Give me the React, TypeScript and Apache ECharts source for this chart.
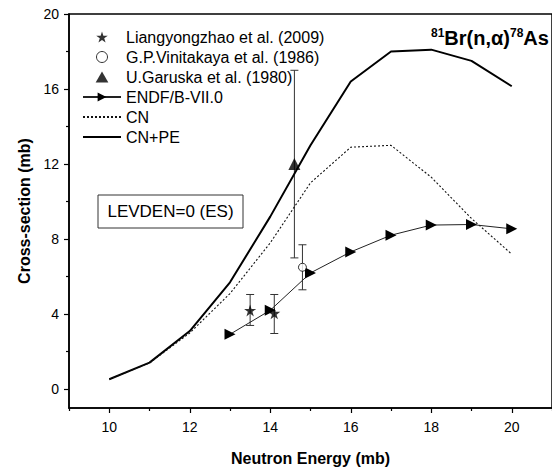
import React, { useEffect, useRef } from "react";
import * as echarts from "echarts";

// ---- data ----
const energies = [10, 11, 12, 13, 14, 15, 16, 17, 18, 19, 20];
const cnpeValues = [0.53, 1.42, 3.1, 5.7, 9.2, 13.0, 16.4, 18.0, 18.1, 17.5, 16.15];
const cnValues = [0.53, 1.4, 3.0, 5.1, 7.8, 11.0, 12.9, 13.0, 11.3, 9.1, 7.2];
const endfEnergies = [13, 14, 15, 16, 17, 18, 19, 20];
const endfValues = [2.93, 4.21, 6.2, 7.32, 8.21, 8.75, 8.78, 8.55];

const liangE = [13.5, 14.1];
const liangY = [4.2, 4.05];
const liangLo = [3.4, 2.97];
const liangHi = [5.05, 5.05];

const viniE = [14.8];
const viniY = [6.5];
const viniLo = [5.3];
const viniHi = [7.7];

const garE = [14.6];
const garY = [12.0];
const garLo = [7.0];
const garHi = [17.0];

const xMajor = [10, 12, 14, 16, 18, 20];
const xMinor = [9, 11, 13, 15, 17, 19, 21];
const yMajor = [0, 4, 8, 12, 16, 20];
const yMinor = [2, 6, 10, 14, 18];

const NAME_LIANG = "Liangyongzhao et al. (2009)";
const NAME_VINI = "G.P.Vinitakaya et al. (1986)";
const NAME_GAR = "U.Garuska et al. (1980)";
const NAME_ENDF = "ENDF/B-VII.0";
const NAME_CN = "CN";
const NAME_CNPE = "CN+PE";

const FONT = "'Liberation Sans', Arial, sans-serif";
const STAR =
  "path://M50,0 L61.2,34.5 L97.6,34.5 L68.2,55.9 L79.4,90.5 L50,69.1 L20.6,90.5 L31.8,55.9 L2.4,34.5 L38.8,34.5 Z";
const TRI = "path://M50,0 L100,86.6 L0,86.6 Z";

const errorBar = (name: string, xs: number[], lo: number[], hi: number[]) => ({
  type: "custom",
  name: name + " error",
  xAxisIndex: 0,
  yAxisIndex: 0,
  z: 2,
  silent: true,
  encode: { x: 0, y: [1, 2] },
  data: xs.map((x, i) => [x, lo[i], hi[i]]),
  renderItem: (_params: any, api: any) => {
    const x = api.value(0);
    const p1 = api.coord([x, api.value(1)]);
    const p2 = api.coord([x, api.value(2)]);
    const w = 4;
    const st = { stroke: "#333", lineWidth: 1 };
    return {
      type: "group",
      children: [
        { type: "line", shape: { x1: p1[0], y1: p1[1], x2: p2[0], y2: p2[1] }, style: st },
        { type: "line", shape: { x1: p1[0] - w, y1: p1[1], x2: p1[0] + w, y2: p1[1] }, style: st },
        { type: "line", shape: { x1: p2[0] - w, y1: p2[1], x2: p2[0] + w, y2: p2[1] }, style: st },
      ],
    };
  },
});

export default function App() {
  const ref = useRef<HTMLDivElement>(null);
  useEffect(() => {
    if (!ref.current) return;
    const chart = echarts.init(ref.current, undefined, { renderer: "svg" });
    const axisLineStyle = { color: "#000", width: 1.5 };
    const option: any = {
      animation: false,
      backgroundColor: "#fff",
      textStyle: { fontFamily: FONT },
      grid: {
        left: 69,
        top: 14,
        width: 488,
        height: 394,
        show: true,
        borderColor: "#000",
        borderWidth: 1.5,
        backgroundColor: "transparent",
      },
      legend: {
        orient: "vertical",
        left: 77,
        top: 24,
        itemWidth: 38,
        itemHeight: 11,
        itemGap: 4,
        selectedMode: false,
        textStyle: { fontSize: 16, color: "#000", fontFamily: FONT, lineHeight: 16 },
        data: [
          { name: NAME_LIANG, icon: STAR },
          {
            name: NAME_VINI,
            icon: "circle",
            itemStyle: { color: "#fff", borderColor: "#000", borderWidth: 1 },
          },
          { name: NAME_GAR, icon: TRI },
          { name: NAME_ENDF },
          { name: NAME_CN, itemStyle: { opacity: 0 } },
          { name: NAME_CNPE, itemStyle: { opacity: 0 } },
        ],
      },
      xAxis: [
        {
          type: "value",
          min: 9,
          max: 21,
          position: "bottom",
          name: "Neutron Energy (mb)",
          nameLocation: "middle",
          nameGap: 42,
          nameTextStyle: { fontSize: 16, fontWeight: "bold", color: "#000", fontFamily: FONT },
          axisLine: { show: true, onZero: false, lineStyle: axisLineStyle },
          axisTick: { show: true, customValues: xMajor, length: 5, lineStyle: { color: "#000", width: 1.2 } },
          axisLabel: { customValues: xMajor, fontSize: 14, color: "#000", margin: 12, fontFamily: FONT },
          splitLine: { show: false },
        },
        {
          type: "value",
          min: 9,
          max: 21,
          position: "bottom",
          axisLine: { show: false, onZero: false },
          axisTick: { show: true, customValues: xMinor, length: 3, lineStyle: { color: "#000", width: 1.2 } },
          axisLabel: { show: false },
          splitLine: { show: false },
        },
      ],
      yAxis: [
        {
          type: "value",
          min: -1,
          max: 20,
          position: "left",
          name: "Cross-section (mb)",
          nameLocation: "middle",
          nameGap: 37,
          nameTextStyle: { fontSize: 16, fontWeight: "bold", color: "#000", fontFamily: FONT },
          axisLine: { show: true, onZero: false, lineStyle: axisLineStyle },
          axisTick: { show: true, customValues: yMajor, length: 5, lineStyle: { color: "#000", width: 1.2 } },
          axisLabel: { customValues: yMajor, fontSize: 14, color: "#000", margin: 10, fontFamily: FONT },
          splitLine: { show: false },
        },
        {
          type: "value",
          min: -1,
          max: 20,
          position: "left",
          axisLine: { show: false, onZero: false },
          axisTick: { show: true, customValues: yMinor, length: 3, lineStyle: { color: "#000", width: 1.2 } },
          axisLabel: { show: false },
          splitLine: { show: false },
        },
      ],
      graphic: [
        {
          type: "rect",
          shape: { x: 98, y: 195, width: 145, height: 33 },
          style: { fill: "#fff", stroke: "#333", lineWidth: 1 },
          z: 5,
        },
        {
          type: "text",
          x: 170.5,
          y: 211.5,
          z: 6,
          style: {
            text: "LEVDEN=0 (ES)",
            align: "center",
            verticalAlign: "middle",
            fontSize: 17,
            fontFamily: FONT,
            fill: "#000",
          },
        },
        {
          type: "text",
          x: 431,
          y: 38,
          z: 6,
          style: {
            text: "{sup|81}{big|Br(n,α)}{sup|78}{big|As}",
            align: "left",
            verticalAlign: "middle",
            fill: "#000",
            rich: {
              big: { fontSize: 20, fontWeight: "bold", fontFamily: FONT, lineHeight: 22, fill: "#000" },
              sup: {
                fontSize: 12,
                fontWeight: "bold",
                fontFamily: FONT,
                lineHeight: 10,
                verticalAlign: "top",
                fill: "#000",
              },
            },
          },
        },
      ],
      series: [
        {
          type: "line",
          name: NAME_CNPE,
          data: energies.map((e, i) => [e, cnpeValues[i]]),
          symbol: "none",
          lineStyle: { color: "#000", width: 2 },
          itemStyle: { color: "#000" },
          z: 3,
        },
        {
          type: "line",
          name: NAME_CN,
          data: energies.map((e, i) => [e, cnValues[i]]),
          symbol: "none",
          lineStyle: { color: "#111", width: 1.1, type: [2, 2] },
          itemStyle: { color: "#111" },
          z: 3,
        },
        {
          type: "line",
          name: NAME_ENDF,
          data: endfEnergies.map((e, i) => [e, endfValues[i]]),
          symbol: "triangle",
          symbolRotate: -90,
          symbolSize: 11,
          showSymbol: true,
          lineStyle: { color: "#222", width: 1 },
          itemStyle: { color: "#000" },
          z: 4,
        },
        errorBar("Liangyongzhao", liangE, liangLo, liangHi),
        errorBar("Vinitakaya", viniE, viniLo, viniHi),
        errorBar("Garuska", garE, garLo, garHi),
        {
          type: "scatter",
          name: NAME_LIANG,
          data: liangE.map((e, i) => [e, liangY[i]]),
          symbol: STAR,
          symbolSize: 12,
          itemStyle: { color: "#000" },
          z: 5,
        },
        {
          type: "scatter",
          name: NAME_VINI,
          data: viniE.map((e, i) => [e, viniY[i]]),
          symbol: "circle",
          symbolSize: 8,
          itemStyle: { color: "#fff", borderColor: "#000", borderWidth: 1 },
          z: 5,
        },
        {
          type: "scatter",
          name: NAME_GAR,
          data: garE.map((e, i) => [e, garY[i]]),
          symbol: TRI,
          symbolSize: 12,
          itemStyle: { color: "#000" },
          z: 5,
        },
      ],
    };
    chart.setOption(option);
    return () => chart.dispose();
  }, []);
  return (
    <div
      ref={ref}
      style={{ position: "fixed", left: 0, top: 0, width: 552, height: 472, background: "#fff" }}
    />
  );
}
